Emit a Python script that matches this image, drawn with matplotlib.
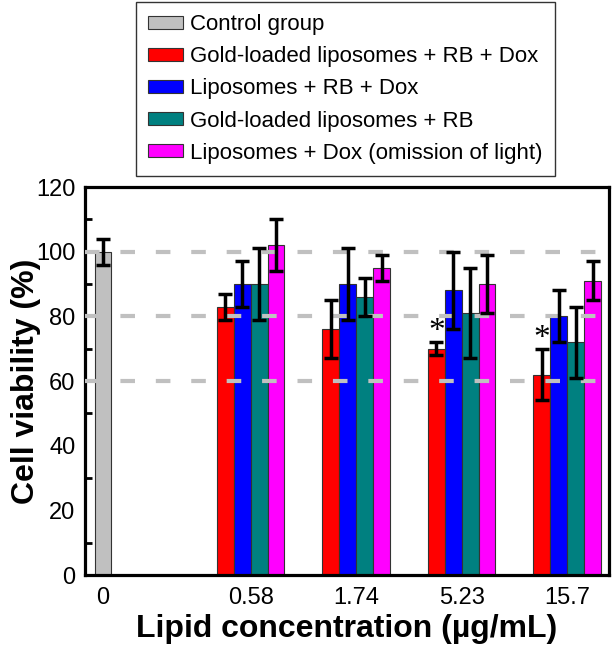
import matplotlib
matplotlib.use("Agg")
import matplotlib.pyplot as plt
from matplotlib.patches import Patch
from matplotlib.ticker import MultipleLocator

plt.rcParams['font.family'] = ['Liberation Sans', 'DejaVu Sans']

# data
concentrations = ["0.58", "1.74", "5.23", "15.7"]
control_mean = 100
control_err = 4

series_names = ["Gold-loaded liposomes + RB + Dox",
                "Liposomes + RB + Dox",
                "Gold-loaded liposomes + RB",
                "Liposomes + Dox (omission of light)"]
gold_rb_dox = [83, 76, 70, 62]
gold_rb_dox_err = [4, 9, 2, 8]
lipo_rb_dox = [90, 90, 88, 80]
lipo_rb_dox_err = [7, 11, 12, 8]
gold_rb = [90, 86, 81, 72]
gold_rb_err = [11, 6, 14, 11]
lipo_dox = [102, 95, 90, 91]
lipo_dox_err = [8, 4, 9, 6]
significant = [False, False, True, True]   # asterisk over red bar

means = [gold_rb_dox, lipo_rb_dox, gold_rb, lipo_dox]
errs = [gold_rb_dox_err, lipo_rb_dox_err, gold_rb_err, lipo_dox_err]
colors = ["#ff0000", "#0000ff", "#008080", "#ff00ff"]
ctrl_color = "#c0c0c0"

fig = plt.figure(figsize=(6.13, 6.48), dpi=100)
ax = fig.add_axes([85/613, 73/648, 524/613, 388/648])

w = 0.16
group_x = [1.4 + i for i in range(len(concentrations))]

err_kw = dict(ecolor='black', elinewidth=2.5, capsize=5, capthick=2.5)

ax.bar(0, control_mean, w, color=ctrl_color, edgecolor='#333333', linewidth=0.8, zorder=2)
ax.errorbar(0, control_mean, yerr=control_err, fmt='none', zorder=5, **err_kw)

for k in range(4):
    xs = [g + (k - 1.5) * w for g in group_x]
    ax.bar(xs, means[k], w, color=colors[k], edgecolor='#333333', linewidth=0.8, zorder=2)
    ax.errorbar(xs, means[k], yerr=errs[k], fmt='none', zorder=5, **err_kw)

# significance marks
for i, s in enumerate(significant):
    if s:
        xr = group_x[i] - 1.5 * w
        top = gold_rb_dox[i] + gold_rb_dox_err[i]
        ax.text(xr, top - 1.5, "*", ha='center', va='bottom', fontsize=24,
                family='Liberation Serif', zorder=6)

for yv in [60, 80, 100]:
    ax.axhline(yv, color='#c0c0c0', lw=3, dashes=(3.5, 5), zorder=3)

ax.set_xlim(-0.171, 4.796)
ax.set_ylim(0, 120)
ax.set_xticks([0] + group_x)
ax.set_xticklabels(["0"] + concentrations)
ax.yaxis.set_major_locator(MultipleLocator(20))
ax.yaxis.set_minor_locator(MultipleLocator(10))
ax.tick_params(axis='x', length=0, pad=9, labelsize=17)
ax.tick_params(axis='y', which='major', length=0, pad=7, labelsize=17)
ax.tick_params(axis='y', which='minor', direction='in', length=5, width=2)
for sp in ax.spines.values():
    sp.set_linewidth(2.3)

ax.set_ylabel("Cell viability (%)", fontsize=23, fontweight='bold', labelpad=-4)
ax.set_xlabel("Lipid concentration (\u00b5g/mL)", fontsize=23, fontweight='bold', labelpad=3)

handles = [Patch(facecolor=ctrl_color, edgecolor='#333333', linewidth=0.8)]
handles += [Patch(facecolor=c, edgecolor='#333333', linewidth=0.8) for c in colors]
labels = ["Control group"] + series_names
leg = fig.legend(handles, labels, loc='upper left', bbox_to_anchor=(136/613, 1 - 2/648),
                 fontsize=16, frameon=True, fancybox=False, edgecolor='black',
                 handlelength=1.55, handleheight=0.55, handletextpad=0.35,
                 labelspacing=0.5, borderpad=0.55, borderaxespad=0)
leg.get_frame().set_linewidth(1.0)

fig.savefig("out.png", dpi=100)
